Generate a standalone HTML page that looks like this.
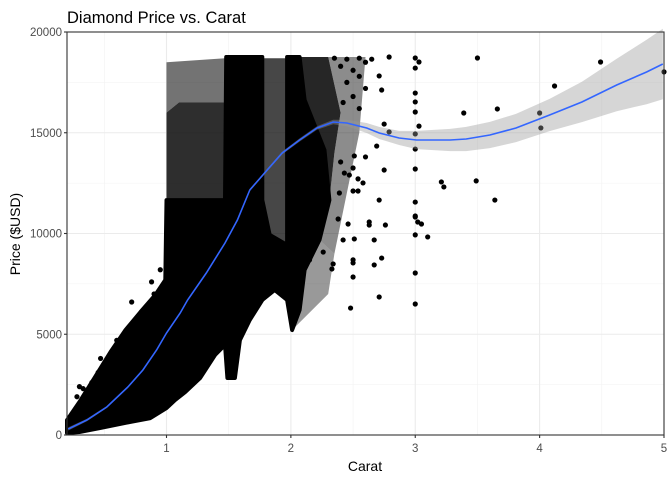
<!DOCTYPE html>
<html><head><meta charset="utf-8"><style>
body{margin:0;background:#fff}
svg{display:block;font-family:"Liberation Sans",Arial,sans-serif}
</style></head><body>
<svg id="chart" width="672" height="480" viewBox="0 0 672 480">
<rect width="672" height="480" fill="#fff"/>
<g id="grid"></g>
<g id="dense"></g>
<g id="pts"></g>
<g id="smooth"></g>
<rect x="67" y="32" width="597" height="403" fill="none" stroke="#333" stroke-width="1.1"/>
<g id="axes"></g>
<text x="67" y="23" font-size="16.5" fill="#000">Diamond Price vs. Carat</text>
<text x="365" y="471" font-size="14" text-anchor="middle" fill="#000">Carat</text>
<text transform="translate(20,234) rotate(-90)" font-size="14" text-anchor="middle" fill="#000">Price ($USD)</text>
</svg>
<script>
const xTicks=[1,2,3,4,5];
const xMinor=[0.5,1.5,2.5,3.5,4.5];
const yTicks=[0,5000,10000,15000,20000];
const yMinor=[2500,7500,12500,17500];
const smoothCarat=[0.21,0.36,0.52,0.69,0.81,0.92,1.00,1.11,1.17,1.32,1.47,1.57,1.67,1.81,1.93,2.07,2.21,2.34,2.45,2.61,2.71,2.87,3.01,3.28,3.41,3.60,3.81,4.08,4.34,4.62,4.86,4.99];
const smoothPrice=[298,744,1390,2382,3226,4219,5062,6055,6700,8040,9529,10670,12160,13150,13995,14640,15236,15534,15485,15236,14988,14740,14641,14641,14690,14888,15236,15882,16527,17371,18016,18413];
const smoothSE=[80,60,50,50,50,50,50,50,50,50,50,60,60,60,70,80,90,110,160,250,300,350,450,550,600,650,700,800,1000,1300,1600,1750];
const denseMain=[[0.20,100],[0.20,740],[0.30,1640],[0.42,2830],[0.55,4120],[0.67,5210],[0.79,6100],[0.91,6950],[0.99,7690],[1.00,11660],[1.47,11660],[1.48,18760],[1.77,18760],[1.77,11660],[1.83,9930],[1.97,9430],[1.97,18760],[2.07,18760],[2.11,16630],[2.27,14140],[2.31,11660],[2.23,9680],[2.11,8190],[2.07,6200],[2.01,5210],[1.97,6700],[1.87,7200],[1.77,6700],[1.67,5710],[1.59,4710],[1.55,2830],[1.49,2830],[1.47,4470],[1.39,3970],[1.27,2830],[1.15,2130],[1.07,1740],[1.00,1340],[0.87,840],[0.71,650],[0.47,350],[0.30,150]];
const denseOneMid=[[1.00,11660],[1.00,16000],[1.10,16500],[1.47,16500],[1.47,11660]];
const denseOneTop=[[1.00,16000],[1.00,18500],[1.47,18700],[1.47,16500],[1.10,16500]];
const denseGap=[[1.77,18700],[1.97,18700],[1.97,9430],[1.83,9930],[1.77,11660]];
const denseTwoRight=[[2.07,18760],[2.30,18760],[2.40,16000],[2.35,14000],[2.31,11660],[2.27,14140],[2.11,16630]];
const denseTwoFar=[[2.31,11660],[2.35,14000],[2.40,16000],[2.30,18760],[2.60,18760],[2.55,15000],[2.45,12000],[2.35,9000],[2.23,9680]];
const denseTwoLow=[[2.01,5210],[2.30,7000],[2.35,9000],[2.23,9680],[2.11,8190],[2.07,6200]];
const denseRegions=[denseMain,denseOneMid,denseOneTop,denseGap,denseTwoRight,denseTwoFar,denseTwoLow];
const denseOpacity=[1,0.82,0.55,0.72,0.85,0.45,0.4];
const scatterCarat=[2.79,3.00,3.03,3.00,2.71,2.73,3.00,3.00,3.00,3.03,2.75,3.00,2.79,3.00,2.69,2.60,2.51,2.75,3.00,2.40,2.43,2.47,2.54,2.58,2.50,2.71,3.00,3.00,3.02,3.05,3.10,3.00,2.76,2.63,2.63,2.51,2.46,2.42,2.67,2.38,2.50,2.54,2.39,2.73,2.67,2.50,2.50,2.50,3.00,2.34,2.33,2.71,3.00,2.48,2.26,2.17,2.15,3.50,4.49,4.12,3.39,3.66,4.00,4.01,3.21,3.23,3.49,3.64,3.00,5.00,2.35,2.45,2.55,2.60,2.65,2.40,2.50,2.55,2.45,2.60,2.50,2.42,2.55,0.30,0.33,0.28,0.40,0.45,0.50,0.47,0.55,0.60,0.62,0.70,0.72,0.80,0.85,0.90,0.88,0.95,1.50,1.51];
const scatterPrice=[18760,18710,18510,18210,17820,17120,16970,16530,16030,15330,15430,14940,15040,14190,14340,13800,13850,13150,13200,13550,13000,12900,12710,12510,13250,11660,11560,10870,10570,10470,9830,9930,10420,10570,10420,9730,10470,9680,9680,10720,12110,12110,12010,8780,8440,8690,8540,7840,8040,8490,8240,6850,6500,6300,9080,9080,8690,18710,18510,17320,15980,16180,15980,15240,12560,12310,12610,11660,10820,18020,18700,18650,18700,18500,18650,18300,18100,17800,17500,17200,16800,16500,16200,2400,2300,1900,2600,3100,3400,3800,4000,4700,4500,5300,6600,5900,6300,7000,7600,8200,3000,3200];

const NS='http://www.w3.org/2000/svg';
const X0=67,X1=664,Y0=435,Y1=32,CMIN=0.2,CMAX=5.0,PMAX=20000;
function sx(c){return X0+(c-CMIN)/(CMAX-CMIN)*(X1-X0);}
function sy(p){return Y0-p/PMAX*(Y0-Y1);}
function mk(tag,attrs,parent){const e=document.createElementNS(NS,tag);for(const k in attrs)e.setAttribute(k,attrs[k]);parent.appendChild(e);return e;}
const grid=document.getElementById('grid'),axes=document.getElementById('axes');
xMinor.forEach(v=>{const l=mk('line',{x1:sx(v),x2:sx(v),y1:Y1,y2:Y0,stroke:'#f2f2f2','stroke-width':0.6},grid);

});
yMinor.forEach(v=>{const l=mk('line',{x1:X0,x2:X1,y1:sy(v),y2:sy(v),stroke:'#f2f2f2','stroke-width':0.6},grid);

});
xTicks.forEach(v=>{const l=mk('line',{x1:sx(v),x2:sx(v),y1:Y1,y2:Y0,stroke:'#ebebeb','stroke-width':1.1},grid);


const t=mk('line',{x1:sx(v),x2:sx(v),y1:Y0,y2:Y0+3,stroke:'#333','stroke-width':1.1},axes);


const tx=mk('text',{x:sx(v),y:Y0+17,'font-size':11.5,'text-anchor':'middle',fill:'#4d4d4d'},axes);tx.textContent=v;

});
yTicks.forEach(v=>{const l=mk('line',{x1:X0,x2:X1,y1:sy(v),y2:sy(v),stroke:'#ebebeb','stroke-width':1.1},grid);


const t=mk('line',{x1:X0-3,x2:X0,y1:sy(v),y2:sy(v),stroke:'#333','stroke-width':1.1},axes);


const tx=mk('text',{x:X0-5,y:sy(v)+4,'font-size':11.5,'text-anchor':'end',fill:'#4d4d4d'},axes);tx.textContent=v;

});
const dense=document.getElementById('dense');
denseRegions.forEach((poly,i)=>{const solid=denseOpacity[i]>=1;
const p=mk('polygon',{points:poly.map(d=>sx(d[0]).toFixed(1)+','+sy(d[1]).toFixed(1)).join(' '),fill:'#000','fill-opacity':denseOpacity[i],stroke:solid?'#000':'none','stroke-width':solid?4:0,'stroke-linejoin':'round'},dense);

});
const pts=document.getElementById('pts');
scatterCarat.forEach((c,i)=>{const e=mk('circle',{cx:sx(c),cy:sy(scatterPrice[i]),r:2.6,fill:'#000'},pts);

});
const sm=document.getElementById('smooth');
const up=smoothCarat.map((c,i)=>sx(c).toFixed(1)+','+sy(smoothPrice[i]+smoothSE[i]).toFixed(1));
const lo=smoothCarat.map((c,i)=>sx(c).toFixed(1)+','+sy(smoothPrice[i]-smoothSE[i]).toFixed(1)).reverse();
const rb=mk('polygon',{points:up.concat(lo).join(' '),fill:'#999','fill-opacity':0.4},sm);


const ln=mk('polyline',{points:smoothCarat.map((c,i)=>sx(c).toFixed(1)+','+sy(smoothPrice[i]).toFixed(1)).join(' '),fill:'none',stroke:'#3366ff','stroke-width':1.6},sm);


</script>
</body></html>
